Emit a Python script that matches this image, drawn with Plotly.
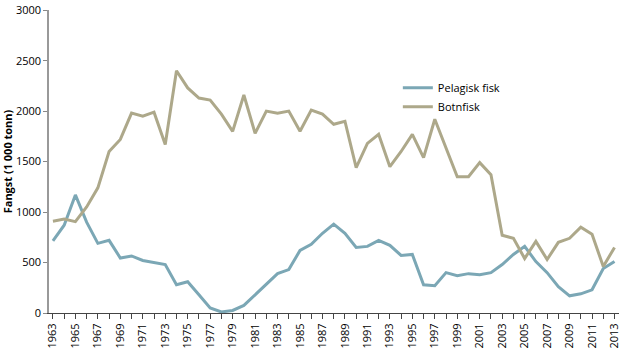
import plotly.graph_objects as go

years = list(range(1963, 2014))
pelagisk = [715, 870, 1170, 900, 690, 720, 545, 565, 520, 500,
            480, 280, 310, 180, 50, 10, 25, 75, 180, 280,
            390, 430, 620, 680, 790, 880, 790, 650, 660, 720,
            670, 570, 580, 280, 270, 400, 370, 390, 380, 400,
            480, 580, 660, 510, 400, 260, 170, 190, 230, 440, 510]
botnfisk = [910, 930, 905, 1050, 1240, 1600, 1720, 1980, 1950, 1990,
            1670, 2400, 2230, 2130, 2110, 1970, 1800, 2160, 1780, 2000,
            1980, 2000, 1800, 2010, 1970, 1870, 1900, 1440, 1680, 1770,
            1450, 1600, 1770, 1540, 1920, 1640, 1350, 1350, 1490, 1370,
            770, 740, 540, 710, 530, 700, 740, 850, 780, 460, 650]
x_ticks = list(range(1963, 2014, 2))
y_ticks = [0, 500, 1000, 1500, 2000, 2500, 3000]

fig = go.Figure()
fig.add_trace(go.Scatter(x=years, y=pelagisk, mode="lines", name="Pelagisk fisk",
                         line=dict(color="#7BA7B5", width=3)))
fig.add_trace(go.Scatter(x=years, y=botnfisk, mode="lines", name="Botnfisk",
                         line=dict(color="#ADA88A", width=3)))

font_family = "Open Sans, Liberation Sans, sans-serif"
fig.update_layout(
    width=623, height=351,
    margin=dict(l=49, r=2, t=8, b=33),
    paper_bgcolor="white", plot_bgcolor="white",
    font=dict(family=font_family, size=11, color="black"),
    legend=dict(x=0.612, y=0.712, xanchor="left", yanchor="middle",
                bgcolor="rgba(0,0,0,0)", font=dict(size=11), itemwidth=30,
                tracegroupgap=0),
    showlegend=True,
)
fig.update_xaxes(
    range=[1962.65, 2013.4], tickmode="array", tickvals=x_ticks,
    ticktext=[str(v) for v in x_ticks], ticklabeloverflow="allow",
    tickangle=-90, ticks="outside", ticklen=5, tickcolor="#444",
    showline=True, linecolor="#444", linewidth=1, showgrid=False, zeroline=False,
    tickfont=dict(size=11),
    minor=dict(dtick=1, tick0=1963, ticks="outside", ticklen=5, tickcolor="#444", showgrid=False),
)
fig.update_yaxes(
    range=[0, 3002], tickmode="array", tickvals=y_ticks,
    ticktext=[str(v) for v in y_ticks], ticklabeloverflow="allow",
    ticks="outside", ticklen=4, tickcolor="#888",
    showline=True, linecolor="#999", linewidth=1.5, showgrid=False, zeroline=False,
    title=dict(text="<b>Fangst (1 000 tonn)</b>", font=dict(size=11), standoff=6),
    tickfont=dict(size=11),
)
fig.write_html("out.html")
